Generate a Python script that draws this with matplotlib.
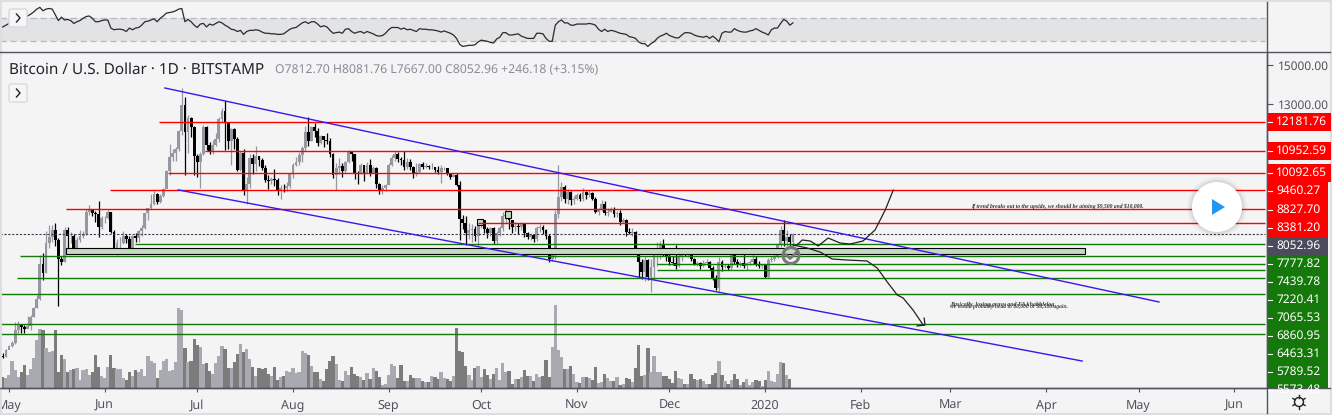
# BTC/USD daily chart with drawn channel and support / resistance levels
import numpy as np
import matplotlib
matplotlib.use("Agg")
import matplotlib.pyplot as plt
from matplotlib.patches import Circle, FancyBboxPatch, Polygon, Rectangle
from matplotlib.ticker import NullLocator

plt.rcParams['font.family'] = ['Noto Sans', 'DejaVu Sans']
plt.rcParams['text.hinting'] = 'no_hinting'

# daily candles from 28 Apr 2019 (day -3) to 10 Jan 2020
closes = [5150,5135,5270,
          5340,5400,5660,5770,5720,5685,5750,5935,6150,6345,7230,6970,7790,7985,8190,7880,7350,7260,8190,7990,8000,7630,7880,7995,8060,8730,8800,8720,8660,8265,8550,
          8560,8735,8130,7650,7795,7800,8000,7925,7640,8010,7935,8150,8230,8695,8855,8985,9320,9080,9280,9525,10170,10700,10850,11000,11750,12950,11740,12360,11950,10720,
          10500,10800,11950,11190,10950,11190,11410,12300,12650,12100,11350,11850,11430,10200,10860,9440,9700,10650,10420,10730,10580,10280,9830,9780,9870,9830,9480,9550,9530,9630,10060,
          10370,10500,10770,11040,11720,11350,11950,11770,11250,11540,11390,11360,10810,10000,10280,10330,10150,10500,10950,10800,10100,10070,10370,10100,10370,10100,10280,9700,9440,9550,9660,
          10370,10640,10800,10600,10580,10300,10515,10325,10070,10130,10425,10325,10350,10300,10325,10200,10105,10260,10265,10070,9950,10010,9650,8530,8390,8080,8185,8205,8000,8340,
          8480,8205,8080,8230,7847,8080,8230,8596,8641,8480,8260,8300,8260,8375,8100,7980,8030,7903,8230,8260,8185,8000,7358,7507,8675,9240,9576,9180,9420,9125,9150,
          9300,9180,9420,9300,9360,9180,8745,8800,9010,8715,8745,8800,8675,8715,8425,8480,8130,8100,8130,7617,7280,7016,7324,6873,7147,7507,7620,7769,7507,7415,
          7280,7253,7165,7415,7507,7490,7507,7342,7218,7235,7165,7253,7270,7103,6848,6600,7280,7130,7165,7103,7507,7280,7191,7235,7165,7235,7280,7358,7218,7165,7180,
          6890,7324,7342,7415,7769,8185,7847,7960,7812,8052.96]
highs = [5200,5200,5290,
         5360,5440,5830,5845,5790,5775,5960,5990,6170,6430,7450,7510,8150,8325,8330,8380,7950,7440,8280,8280,8110,8060,7980,8170,8160,8820,8950,8810,8770,9090,8600,
         8620,8800,8750,8180,7900,7960,8140,8050,7990,8040,8100,8190,8340,8720,8880,9350,9440,9360,9320,9560,10200,11200,11000,11100,11800,13800,13350,12500,12400,12000,
         10800,10900,12050,12000,11300,11400,11700,12400,12800,13160,12100,11900,11900,11500,10950,11000,9950,10800,10800,11140,10750,10650,10400,10000,9950,10250,9900,9650,9700,9740,10100,
         10450,10700,10900,11150,11980,12400,12000,12120,11900,11600,11550,11700,11450,10850,10450,10650,10480,10550,10980,10950,10800,10150,10450,10400,10500,10620,10350,10300,9720,9640,9700,
         10450,10780,10950,10880,10700,10920,10640,10600,10350,10450,10480,10500,10450,10400,10450,10300,10350,10400,10320,10280,10100,10100,10090,9800,8650,8600,8400,8360,8300,8450,
         8500,8430,8280,8280,8260,8150,8300,8750,8830,8680,8480,8420,8380,8420,8390,8130,8100,8050,8300,8350,8320,8220,8050,7600,8800,10380,9750,9650,9500,9450,9280,
         9380,9380,9530,9450,9480,9400,9250,8880,9120,9100,8880,8900,8900,8780,8790,8560,8530,8240,8230,8150,7660,7360,7400,7350,7350,7650,7820,7860,7900,7560,
         7550,7430,7730,7500,7630,7610,7660,7550,7390,7300,7280,7320,7340,7300,7170,6920,7415,7320,7230,7220,7560,7660,7350,7300,7500,7280,7330,7520,7420,7290,7220,
         7230,7390,7420,7480,7800,8300,8470,8180,8060,8081.76]
lows = [5110,5100,5130,
        5310,5320,5380,5580,5600,5590,5700,5660,5930,6140,6320,6800,6980,7650,7820,7700,6180,7200,7265,7580,7800,7500,7550,7820,7930,8030,8630,8600,8420,7970,8200,
        8400,8520,8100,7500,7450,7650,7770,7800,7550,7520,7820,7830,8000,8220,8500,8820,8980,9000,9030,9230,9530,10000,10550,10530,10950,11600,10000,10850,11500,10010,
        9930,9530,10780,10980,10800,10800,11150,11300,12150,10980,11000,10400,11000,10150,10150,9300,9000,9550,10050,10150,10350,10180,9750,9500,9670,9600,9300,9180,9400,9450,9560,
        9900,10350,10380,10500,10950,11150,11350,11500,11150,11200,11100,11200,10700,9900,9480,10050,9950,10100,10450,10550,9850,9700,10050,9800,10200,9990,10080,9550,9320,9320,9450,
        9650,10350,10550,10500,10400,10200,10250,10200,9890,9980,10100,10220,10280,10250,10250,10130,10060,9730,10200,10000,9850,9950,9600,7890,8200,7730,7900,7820,7840,7720,
        8250,8100,7950,8000,7780,7780,8000,8150,8400,8200,8100,8150,8070,8180,7980,7900,7870,7820,7850,8120,8060,7900,7270,7300,7340,8560,9100,9030,9000,8950,9000,
        9120,9090,9100,9180,9250,9120,8700,8650,8780,8640,8620,8730,8580,8580,8330,8380,7990,8050,8000,7540,6850,6830,6790,6800,6500,6800,7170,7350,7430,7300,
        7200,7190,7080,7140,7300,7430,7400,7300,7180,7160,7090,7130,7190,7050,6810,6560,6530,7040,7100,7050,7060,7230,7130,7150,7120,7070,7190,7210,7160,7110,7110,
        6850,6860,7260,7300,7390,7680,7700,7650,7700,7667.00]
first_open = 5160

# volume, thousand units, same days as the candles
volume = [12,11,10,13,27,18,11,16,23,13,19,30,48,59,58,40,36,37,58,16,33,29,16,18,19,20,8,18,19,13,16,33,21,12,10,21,33,20,19,19,10,8,16,12,18,16,19,12,32,27,25,10,18,27,29,17,18,26,
          80,78,40,26,27,49,43,41,24,25,17,14,25,32,42,39,20,20,26,34,44,36,39,29,21,12,20,19,20,14,12,21,8,11,12,17,16,20,15,16,37,35,33,22,16,16,9,7,19,27,32,24,8,7,17,13,21,14,12,11,8,15,9,20,17,11,3,4,13,24,22,10,23,7,7,13,10,10,
          10,7,6,6,12,11,9,16,10,9,7,12,60,37,36,22,13,8,20,22,11,19,13,9,14,20,8,25,16,17,4,9,9,11,18,12,12,7,14,11,12,28,11,41,83,38,31,19,19,22,14,6,5,11,11,10,8,21,5,6,14,10,7,7,11,3,4,10,9,6,20,43,12,13,40,16,32,16,16,12,12,9,5,17,10,9,4,4,14,9,8,9,7,4,4,13,15,27,13,7,4,8,14,9,3,6,9,3,6,8,7,2,8,17,7,6,14,26,25,13,9]

# RSI
rsi = [54,55,58,61,64,65,66,67,68,74,77,81,86,89,83,86,87,86,76,66,72,67,68,66,61,64,66,70,73,74,70,64,64,66,67,67,53,50,51,51,50,47,53,50,53,54,58,64,65,67,69,64,70,74,79,80,81,83,86,87,64,68,64,58,54,60,61,55,60,58,61,64,62,58,55,51,50,47,49,42,47,49,49,50,49,46,44,44,43,43,42,42,43,47,51,53,54,58,62,64,61,64,64,60,55,57,55,49,44,45,46,44,51,52,47,44,46,47,44,47,45,43,40,39,40,44,50,54,54,54,51,53,50,51,49,47,52,51,51,50,50,49,48,46,48,46,
       44,41,35,25,21,22,23,23,24,29,32,31,30,28,27,34,37,45,45,41,41,42,43,39,37,35,35,35,44,44,43,35,30,30,58,64,67,62,62,58,58,60,60,60,60,61,60,58,51,47,51,47,49,48,46,44,43,42,38,37,35,29,26,26,21,26,29,35,39,41,44,40,38,36,36,41,45,45,44,41,39,38,37,39,35,39,35,29,44,47,46,46,52,49,47,46,46,48,49,52,49,46,44,41,50,53,53,61,68,65,58,62]

# drawn levels: price, day the line starts
red_levels = [12181.76, 10952.59, 10092.65, 9460.27, 8827.70, 8381.20]
red_starts = [48.6, 63.5, 51.5, 32.7, 18.5, 152]
green_levels = [7777.82, 7439.78, 7220.41, 7065.53, 6860.95, 6463.31, 5789.52, 5573.48]
green_starts = [40.8, 3.6, 210, 210, 2.6, -3, -3, -3]
last_price = 8052.96

# falling channel and the two projected paths
upper_days, upper_prices = [50.5, 372.6], [13784, 6277]
lower_days, lower_prices = [54.8, 347.7], [9477, 5052]
up_days = [255.3, 257, 259.6, 262.2, 265.4, 269.3, 272.5, 276.7, 280.6, 283.9, 286.5]
up_prices = [7739, 7883, 7854, 7711, 7941, 7796, 7767, 7854, 8178, 8802, 9472]
down_days = [254, 258.6, 262.8, 266.7, 271.5, 278, 281.3, 284.8, 287.8, 289.7, 292.9, 296.2]
down_prices = [7739, 7655, 7542, 7351, 7324, 7298, 7112, 6730, 6440, 6369, 6095, 5767]
head_days, head_prices = [296.5, 296.8, 294.2], [5917, 5767, 5746]

# supply zones: start day, end day, low, high
zones = [(18.5, 348.7, 7480, 7650), (151.7, 153.6, 8330, 8509), (160.7, 162.7, 8542, 8763)]

month_days = [0, 31, 61, 92, 123, 153, 184, 214, 245, 276, 305, 336, 366, 397]
month_labels = ['May', 'Jun', 'Jul', 'Aug', 'Sep', 'Oct', 'Nov', 'Dec', '2020', 'Feb', 'Mar', 'Apr', 'May', 'Jun']
scale_ticks = [15000, 13000]

side_labels = ['12181.76', '10952.59', '10092.65', '9460.27', '8827.70', '8381.20', '8052.96', '7777.82',
               '7439.78', '7220.41', '7065.53', '6860.95', '6463.31', '5789.52', '5573.48']

bg = '#f4f4f4'
axis_col = '#50535e'
W, H = 1332, 415

closes = np.array(closes, dtype=float)
highs = np.array(highs, dtype=float)
lows = np.array(lows, dtype=float)
opens = np.r_[first_open, closes[:-1]]
days = np.arange(len(closes)) - 3
rising = closes >= opens

fig = plt.figure(figsize=(W / 100, H / 100), dpi=100, facecolor=bg)

# main panel, log price scale
ax = fig.add_axes([0, (H - 388) / H, 1267 / W, (388 - 53) / H], facecolor='none')
ax.set_yscale('log')
ax.set_xlim(-2.92, 407.6)
ax.set_ylim(4575, 15677)
ax.set_zorder(3)

# volume underneath, same x
vol_ax = fig.add_axes(ax.get_position(), facecolor=bg, sharex=ax)
vol_ax.set_ylim(0, 335)
vol_ax.set_zorder(1)
vol_ax.axis('off')
vol_days = np.arange(len(volume)) - 3
n = min(len(volume), len(rising))
vol_cols = np.where(rising[:n], '#a9a9b1', '#7c7c7c')
vol_ax.bar(vol_days[:n], volume[:n], width=1.06, color=vol_cols, linewidth=0)

# candles
cols = np.where(rising, '#9598a1', '#000000')
ax.vlines(days, lows, highs, colors=cols, linewidth=0.9, zorder=2)
ax.bar(days, np.abs(closes - opens), bottom=np.minimum(opens, closes), width=0.92, color=cols, linewidth=0, zorder=2)

# levels
line_end = 406.9
for price, start in zip(red_levels, red_starts):
    ax.hlines(price, start, line_end, colors='#ff0000', linewidth=1.0, zorder=4)
for price, start in zip(green_levels, green_starts):
    ax.hlines(price, start, line_end, colors='#127a0a', linewidth=1.0, zorder=4)
ax.hlines(last_price, -3, line_end, colors='#3a3c4a', linewidth=0.8, linestyles=(0, (2, 1.5)), zorder=4)

for d0, d1, lo, hi in zones:
    ax.add_patch(Rectangle((d0, lo), d1 - d0, hi - lo, facecolor='#c5dac0', edgecolor='#000000', linewidth=0.8, zorder=3))

ax.plot(upper_days, upper_prices, color='#3b14ee', linewidth=1.0, zorder=5)
ax.plot(lower_days, lower_prices, color='#3b14ee', linewidth=1.0, zorder=5)
ax.plot(up_days, up_prices, color='#222222', linewidth=0.9, zorder=6)
ax.plot(down_days, down_prices, color='#222222', linewidth=0.9, zorder=6)
ax.plot(head_days, head_prices, color='#222222', linewidth=0.9, zorder=6)

# axis
ax.set_xticks(month_days)
ax.set_xticklabels(month_labels, fontsize=9, color=axis_col)
ax.get_xticklabels()[8].set_fontweight('bold')
ax.tick_params(axis='x', length=3, width=0.8, color=axis_col, pad=5)
ax.yaxis.tick_right()
ax.yaxis.set_minor_locator(NullLocator())
ax.set_yticks(scale_ticks)
ax.set_yticklabels(['%.2f' % v for v in scale_ticks], fontsize=8.6, color=axis_col)
ax.tick_params(axis='y', length=4, width=0.8, color=axis_col, pad=4)
for side in ['top', 'left']:
    ax.spines[side].set_visible(False)
for side in ['bottom', 'right']:
    ax.spines[side].set_color(axis_col)
    ax.spines[side].set_linewidth(1.0)

# RSI panel
rsi_ax = fig.add_axes([0, (H - 52) / H, 1267 / W, 50 / H], facecolor=bg, sharex=ax)
rsi_ax.set_ylim(11.4, 98.3)
rsi_ax.axhspan(30, 70, color='#e2e3e5', linewidth=0)
rsi_ax.hlines([30, 70], -3, line_end, colors='#b8b8bb', linewidth=0.9, linestyles=(0, (5, 3)))
rsi_ax.plot(np.arange(len(rsi)) - 3, rsi, color='#2a2a2a', linewidth=0.9)
rsi_ax.axis('off')

# chrome, pixel coordinates
ui = fig.add_axes([0, 0, 1, 1], facecolor='none')
ui.set_xlim(0, W)
ui.set_ylim(H, 0)
ui.axis('off')
ui.set_zorder(6)

ui.plot([0, W - 2], [52, 52], color=axis_col, linewidth=1.0)
ui.plot([0, W - 2], [388, 388], color=axis_col, linewidth=1.0)
ui.plot([1267, 1267], [2, 413], color=axis_col, linewidth=1.0)
ui.add_patch(Rectangle((0.5, 1), W - 1.5, H - 2, fill=False, edgecolor='#dedede', linewidth=1.5))

# price tags, stacked
ui.add_patch(Rectangle((1267.5, 113), 63.5, 18, color='#ff0000', linewidth=0))
ui.add_patch(Rectangle((1267.5, 142), 63.5, 18, color='#ff0000', linewidth=0))
ui.add_patch(Rectangle((1267.5, 164), 63.5, 18, color='#ff0000', linewidth=0))
ui.add_patch(Rectangle((1267.5, 182), 60, 55, color='#ff0000', linewidth=0))
ui.add_patch(Rectangle((1267.5, 237), 60, 18, color='#4a4c5e', linewidth=0))
ui.add_patch(Rectangle((1267.5, 255), 60, 133, color='#14790a', linewidth=0))
side_y = [122, 151, 173, 191, 210, 228, 246, 264, 282, 300, 318, 336, 354, 372, 390]
for label, y in zip(side_labels, side_y):
    clip = Rectangle((1267, 0), 65, 388, transform=ui.transData)
    ui.text(1276, y, label, color='white', fontsize=8.6, va='center', ha='left', clip_path=clip, clip_on=True)
    ui.plot([1268, 1272], [y, y], color='white', linewidth=0.8, clip_path=clip, clip_on=True)

# header
ui.text(9, 69.5, 'Bitcoin / U.S. Dollar \u00b7 1D \u00b7 BITSTAMP', fontsize=11, color='#20222c', va='center')
ui.text(275, 70, 'O7812.70 H8081.76 L7667.00 C8052.96 +246.18 (+3.15%)', fontsize=8.8, color='#8a8c98', va='center')

# collapse buttons
for cy in [18, 93]:
    ui.add_patch(FancyBboxPatch((9, cy - 9), 18, 18, boxstyle='round,pad=0,rounding_size=2', facecolor='#f6f6f7', edgecolor='#d8dae0', linewidth=1.0))
    ui.plot([16.5, 20, 16.5], [cy - 4, cy, cy + 4], color='#222222', linewidth=1.0)

# notes on the chart
serif = ['Liberation Serif', 'DejaVu Serif']
ui.text(971, 206, 'If trend breaks out to the upside, we should be aiming \\$9,500 and \\$10,000.', family=serif, style='italic', weight='bold', fontsize=4.05, color='#333333', va='center')
ui.text(950, 304, 'Basically, losing gravy and FA khabhlelog', family=serif, style='italic', weight='bold', fontsize=4.3, color='#333333', va='center')
ui.text(950, 306.5, 'we would probably head to \\$8,000 or \\$8,500 again.', family=serif, style='italic', weight='bold', fontsize=4.05, color='#444444', va='center')

# checked circle on the last bars
ui.add_patch(Circle((791, 255.5), 8, fill=False, edgecolor='#777777', linewidth=2.2))
ui.plot([786.5, 790, 796.5], [255, 258.5, 252.5], color='#777777', linewidth=2.0)

# play button
for r, a in [(30, 0.03), (28, 0.04), (26.5, 0.05)]:
    ui.add_patch(Circle((1217, 207), r, color='#000000', alpha=a, linewidth=0))
ui.add_patch(Circle((1217, 207), 25, color='white', linewidth=0))
ui.add_patch(Polygon([(1212, 199), (1212, 215), (1225, 207)], closed=True, color='#2196f3', linewidth=0))

# settings icon
ui.add_patch(Circle((1299, 402), 4.5, fill=False, edgecolor='#222222', linewidth=1.0))
for a in np.arange(0, 360, 60) + 30:
    ca, sa = np.cos(np.radians(a)), np.sin(np.radians(a))
    ui.plot([1299 + 4.5 * ca, 1299 + 7 * ca], [402 + 4.5 * sa, 402 + 7 * sa], color='#222222', linewidth=1.0)

fig.savefig('out.png', dpi=100, facecolor=bg)
